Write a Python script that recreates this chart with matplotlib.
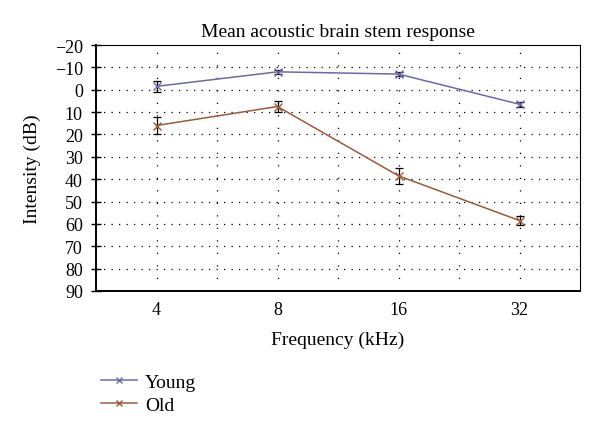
import matplotlib
matplotlib.use("Agg")
from matplotlib import pyplot as plt
import numpy as np

# Data
freqs = ["4", "8", "16", "32"]
young = [-1.5, -8.0, -7.0, 6.5]
young_err = [2.5, 1.0, 1.0, 1.0]
old = [16.0, 7.5, 38.5, 58.5]
old_err = [4.0, 2.5, 3.5, 2.0]
yticks = list(range(-20, 91, 10))

plt.rcParams['font.family'] = ['Liberation Serif', 'DejaVu Serif']

fig = plt.figure(figsize=(6.0, 4.39), dpi=100)
ax = fig.add_axes([96/600, 1 - 292/439, (580 - 96)/600, (292 - 46)/439])

x = np.arange(len(freqs))
ax.errorbar(x, young, yerr=young_err, color='#6b6aa6', marker='x',
            markersize=6, linewidth=1.1, ecolor='black', elinewidth=0.9,
            capsize=3, capthick=0.9, label='Young', zorder=3)
ax.errorbar(x, old, yerr=old_err, color='#9a5b3c', marker='x',
            markersize=6, linewidth=1.1, ecolor='black', elinewidth=0.9,
            capsize=3, capthick=0.9, label='Old', zorder=3)

ax.set_xlim(-0.5, 3.5)
ax.set_ylim(90, -20)
ax.set_yticks(yticks)
ax.set_yticklabels([str(v).replace('-', '\u2212') for v in yticks])
ax.set_xticks(x)
ax.set_xticklabels(freqs)

# dotted grid: vertical every half category, horizontal every 10 dB
for xv in np.arange(0, 3.51, 0.5):
    ax.axvline(xv, color='black', linestyle=(0, (1, 9)), linewidth=0.9, zorder=1)
for yv in yticks[1:-1]:
    ax.axhline(yv, color='black', linestyle=(0, (1, 5)), linewidth=0.9, zorder=1)

for side in ['left', 'bottom']:
    ax.spines[side].set_linewidth(1.4)
for side in ['top', 'right']:
    ax.spines[side].set_linewidth(0.8)

ax.tick_params(axis='y', direction='inout', length=7, width=1, labelsize=13, pad=6)
ax.tick_params(axis='x', length=0, labelsize=13, pad=7)

ax.set_title('Mean acoustic brain stem response', fontsize=14, pad=6.5)
ax.set_xlabel('Frequency (kHz)', fontsize=14, labelpad=9)
ax.set_ylabel('Intensity (dB)', fontsize=14, labelpad=10)

handles, labels = ax.get_legend_handles_labels()
handles = [h[0] for h in handles]
fig.legend(handles, labels, loc='upper left', bbox_to_anchor=(83/600, 1 - 357/439),
           frameon=False, fontsize=14, handlelength=1.9, handletextpad=0.4,
           labelspacing=0.25, markerscale=0.7)

fig.savefig('out.png', dpi=100)
